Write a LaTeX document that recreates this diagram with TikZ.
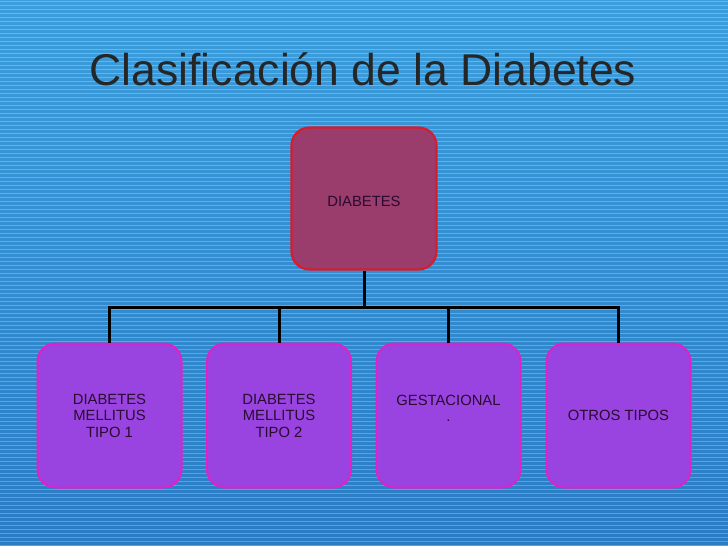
\documentclass[tikz,border=0pt]{standalone}
\usepackage{fontspec}
\setmainfont{Liberation Sans}
\begin{document}
\begin{tikzpicture}[x=1pt,y=-1pt,
  topbox/.style={draw=topdraw, line width=2.2pt, fill=topfill, rounded corners=18pt, minimum width=145pt, minimum height=142pt, inner sep=0pt},
  subbox/.style={draw=subdraw, line width=2pt, fill=subfill, rounded corners=18pt, minimum width=144pt, minimum height=144pt, inner sep=0pt},
  lbl/.style={font=\fontsize{14.8}{16.5}\selectfont, text=txtc, align=center},
  conn/.style={line width=3pt, black}]
\definecolor{topfill}{HTML}{9A3C6C}
\definecolor{topdraw}{HTML}{D81C2C}
\definecolor{subfill}{HTML}{9944E0}
\definecolor{subdraw}{HTML}{E020C8}
\definecolor{txtc}{HTML}{2A0A30}
\definecolor{bgtop}{HTML}{3C9EDC}
\definecolor{bgbot}{HTML}{2A7CC4}
\useasboundingbox (0,0) rectangle (728,546);
\shade[top color=bgtop, bottom color=bgbot] (0,0) rectangle (728,546);
\foreach \i in {0,...,136} {\draw[white, opacity=0.25, line width=1pt] (0,\i*4+1) -- (728,\i*4+1);}
\node[anchor=base, font=\fontsize{44.5}{48}\selectfont, text=black!85] (title) at (363,85) {Clasificación de la Diabetes};
\node[topbox] (top) at (364,198.5) {};
\node[lbl] (toplbl) at (364,201) {DIABETES};
\node[subbox] (a) at (109.5,415.5) {};
\node[subbox] (b) at (279,415.5) {};
\node[subbox] (c) at (448.5,415.5) {};
\node[subbox] (d) at (618.5,415.5) {};
\node[lbl] at (a) {DIABETES\\MELLITUS\\TIPO 1};
\node[lbl] at (b) {DIABETES\\MELLITUS\\TIPO 2};
\node[lbl] at ([yshift=7]c) {GESTACIONAL\\.};
\node[lbl] at (d) {OTROS TIPOS};
\coordinate (j) at (364,307);
\draw[conn] (top.south) -- (j);
\draw[conn] (a.north) |- (j) -| (d.north);
\draw[conn] (b.north) -- (b.north|-j);
\draw[conn] (c.north) -- (c.north|-j);
\end{tikzpicture}
\end{document}
